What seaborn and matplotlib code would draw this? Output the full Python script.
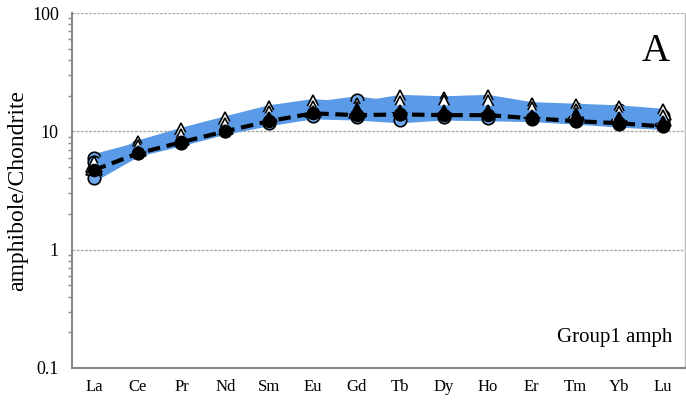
import matplotlib
matplotlib.use("Agg")
import matplotlib.pyplot as plt
import seaborn as sns
import numpy as np
from matplotlib.ticker import FixedLocator, LogLocator, NullFormatter, FixedFormatter

elements = ["La", "Ce", "Pr", "Nd", "Sm", "Eu", "Gd", "Tb", "Dy", "Ho", "Er", "Tm", "Yb", "Lu"]

s1 = [6.0, 7.5, 9.2, 11.5, 14.5, 16.5, 18.5, 16.5, 16.0, 16.5, 15.5, 15.5, 15.0, 13.5]
s2 = [4.0, 6.5, 8.0, 10.0, 11.8, 13.5, 13.2, 12.5, 13.2, 13.0, 12.8, 12.2, 11.5, 11.0]
s3 = [5.5, 7.0, 8.5, 10.5, 13.0, 14.5, 14.5, 14.0, 14.5, 14.5, 13.5, 13.5, 12.5, 12.0]
s4 = [5.0, 7.8, 10.0, 12.5, 15.5, 17.5, 16.5, 19.0, 18.5, 19.0, 16.5, 16.0, 15.5, 14.5]
s5 = [5.3, 7.2, 9.0, 11.0, 14.0, 15.5, 15.0, 17.0, 17.5, 17.5, 15.0, 14.5, 14.0, 13.0]
s6 = [4.8, 7.0, 8.5, 10.5, 13.5, 15.0, 16.0, 15.5, 15.5, 15.5, 14.0, 14.5, 13.5, 12.5]
average = [4.7, 6.5, 8.1, 10.0, 12.2, 14.2, 13.7, 13.9, 13.7, 13.7, 12.9, 12.2, 11.7, 11.0]

yticks = [0.1, 1, 10, 100]
ytick_labels = ["0.1", "1", "10", "100"]

sns.set_style("white")
plt.rcParams["font.family"] = ["Liberation Serif", "DejaVu Serif"]
for k in ["text.color", "axes.labelcolor", "xtick.labelcolor", "ytick.labelcolor"]:
    plt.rcParams[k] = "black"

fig = plt.figure(figsize=(6.86, 4.01), dpi=100)
ax = fig.add_axes([72/686, 33/401, 613/686, 355/401])

x = np.arange(len(elements))
blue = "#5A9AE6"
circ_face = "#6FA8EC"

series = [
    (s1, "o", circ_face, 9),
    (s2, "o", circ_face, 9),
    (s3, "o", circ_face, 9),
    (s4, "^", "white", 11),
    (s5, "^", "white", 11),
    (s6, "^", "black", 6),
]
for vals, m, fc, ms in series:
    sns.lineplot(x=x, y=vals, ax=ax, color=blue, linewidth=5, marker=m,
                 markersize=ms, markerfacecolor=fc, markeredgecolor="black",
                 markeredgewidth=1.2, zorder=2)

sns.lineplot(x=x, y=average, ax=ax, color="black", linewidth=3, linestyle=(0, (3, 1.6)),
             marker="o", markersize=9, markerfacecolor="black", markeredgecolor="black",
             zorder=4)

ax.set_yscale("log")
ax.set_ylim(0.1, 100)
ax.set_xlim(-0.5, len(elements) - 0.5)

ax.yaxis.set_major_locator(FixedLocator(yticks))
ax.yaxis.set_major_formatter(FixedFormatter(ytick_labels))
ax.yaxis.set_minor_locator(LogLocator(base=10, subs=np.arange(2, 10)))
ax.yaxis.set_minor_formatter(NullFormatter())

ax.set_xticks(np.arange(-0.5, len(elements) - 0.4, 1.0))
ax.set_xticklabels([])
ax.set_xticks(x, minor=True)
ax.set_xticklabels(elements, minor=True)

ax.tick_params(axis="x", which="major", direction="out", length=5, width=1, color="#888888")
ax.tick_params(axis="x", which="minor", length=0, labelsize=12, pad=8)
ax.tick_params(axis="y", which="major", direction="out", length=6, width=1, color="#888888", labelsize=13)
ax.tick_params(axis="y", which="minor", direction="out", length=3, width=1, color="#888888", left=True)

for yv in [1, 10, 100]:
    ax.axhline(yv, color="#aaaaaa", linestyle=(0, (2, 1)), linewidth=1, zorder=0)

for side in ["left", "bottom"]:
    ax.spines[side].set_color("#888888")
    ax.spines[side].set_linewidth(1.5)
ax.spines["top"].set_visible(False)
ax.spines["right"].set_color("#bbbbbb")
ax.spines["right"].set_linewidth(1)

ax.set_ylabel("amphibole/Chondrite", fontsize=17, labelpad=3)
ax.set_xlabel("")

ax.text(0.975, 0.84, "A", transform=ax.transAxes, fontsize=28, ha="right", va="bottom")
ax.text(0.98, 0.06, "Group1 amph", transform=ax.transAxes, fontsize=15, ha="right", va="bottom")

fig.savefig("out.png", dpi=100)
